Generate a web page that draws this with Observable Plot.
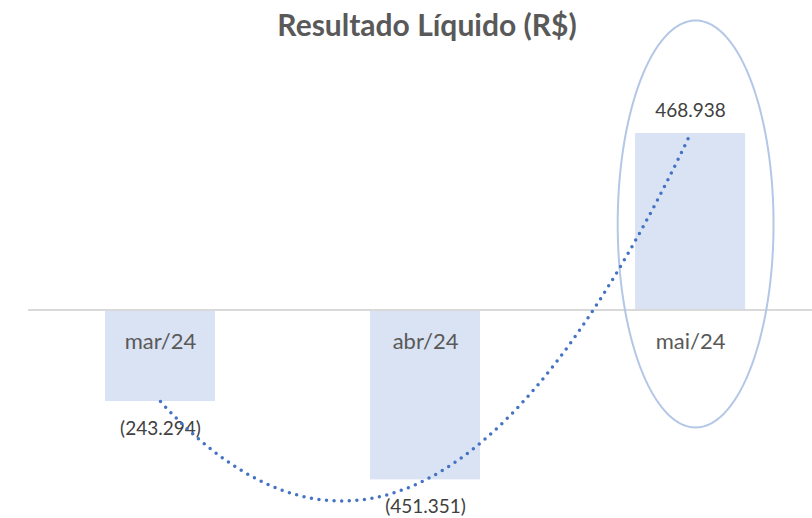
<!DOCTYPE html>
<html>
<head>
<meta charset="utf-8">
<script src="https://cdn.jsdelivr.net/npm/d3@7"></script>
<script src="https://cdn.jsdelivr.net/npm/@observablehq/plot@0.6"></script>
<style>
  html, body { margin: 0; padding: 0; background: #fff; }
  #wrap { position: relative; width: 812px; height: 518px; overflow: hidden; }
  #title { position: absolute; top: 5px; left: 0; width: 854px; text-align: center; line-height: 38px;
    font-family: Lato, "Open Sans", sans-serif; font-weight: 700; font-size: 30px; color: #595959; }
</style>
</head>
<body>
<div id="wrap"><div id="title">Resultado Líquido (R$)</div></div>
<script>
const months = ["mar/24", "abr/24", "mai/24"];
const results = [-243294, -451351, 468938];
const valueLabels = ["(243.294)", "(451.351)", "468.938"];

const data = months.map((m, i) => ({i, month: m, value: results[i], label: valueLabels[i]}));

// Polynomial (order 2) trendline, least squares fit on the data
function polyfit2(xs, ys) {
  const n = xs.length;
  const S = k => d3.sum(xs, x => x ** k);
  const T = k => d3.sum(xs.map((x, j) => ys[j] * x ** k));
  const A = [[n, S(1), S(2)], [S(1), S(2), S(3)], [S(2), S(3), S(4)]];
  const B = [T(0), T(1), T(2)];
  for (let c = 0; c < 3; c++) {
    for (let r = c + 1; r < 3; r++) {
      const f = A[r][c] / A[c][c];
      for (let k = c; k < 3; k++) A[r][k] -= f * A[c][k];
      B[r] -= f * B[c];
    }
  }
  const coef = [0, 0, 0];
  for (let r = 2; r >= 0; r--) {
    let s = B[r];
    for (let k = r + 1; k < 3; k++) s -= A[r][k] * coef[k];
    coef[r] = s / A[r][r];
  }
  return x => coef[0] + coef[1] * x + coef[2] * x * x;
}
const fit = polyfit2(data.map(d => d.i), results);
const trend = d3.range(0, 2.0001, 0.02).map(t => ({t, v: fit(t)}));

// Highlight ellipse around the last month
const ell = {cx: 2.019, cy: 228500, rx: 0.294, ry: 540700};
const ellipse = d3.range(0, 2 * Math.PI, Math.PI / 90).map(a => ({x: ell.cx + ell.rx * Math.cos(a), y: ell.cy + ell.ry * Math.sin(a)}));

const half = 0.2075;
const font = "Lato, 'Open Sans', sans-serif";

const chart = Plot.plot({
  width: 812,
  height: 518,
  marginLeft: 28,
  marginRight: 0,
  marginTop: 0,
  marginBottom: 0,
  x: {type: "linear", domain: [-0.498, 2.46], axis: null},
  y: {domain: [-554000, 822300], axis: null},
  style: {fontFamily: font, background: "transparent", overflow: "visible"},
  marks: [
    Plot.rectY(data, {x1: d => d.i - half, x2: d => d.i + half, y1: 0, y2: "value", fill: "#DAE3F3"}),
    Plot.ruleY([0], {stroke: "#D9D9D9", strokeWidth: 2}),
    Plot.line(ellipse, {x: "x", y: "y", curve: "linear-closed", stroke: "#B4C7E7", strokeWidth: 2}),
    Plot.text(data, {x: "i", y: 0, text: "month", dy: 32, fontSize: 22, fill: "#595959"}),
    Plot.text(data.filter(d => d.value < 0), {x: "i", y: "value", text: "label", dy: 27, fontSize: 19, fill: "#404040"}),
    Plot.text(data.filter(d => d.value >= 0), {x: "i", y: "value", text: "label", dy: -23, fontSize: 19, fill: "#404040"}),
    Plot.line(trend, {x: "t", y: "v", stroke: "#4472C4", strokeWidth: 3.5, strokeDasharray: "0 7.6", strokeLinecap: "round"})
  ]
});
document.getElementById("wrap").prepend(chart);
</script>
</body>
</html>
